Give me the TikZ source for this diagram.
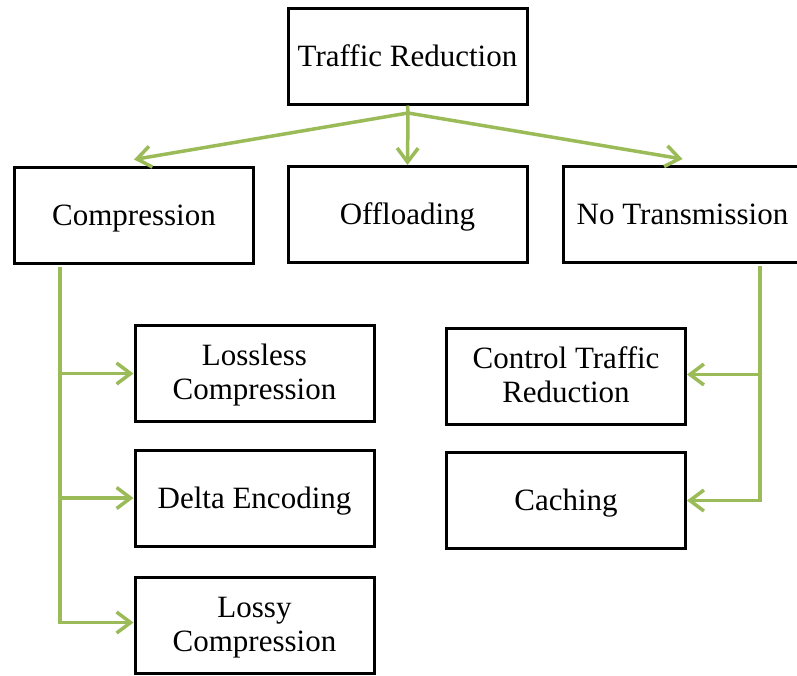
\documentclass[tikz,border=0pt]{standalone}
\usepackage{fontspec}
\setmainfont{Liberation Serif}
\usetikzlibrary{arrows.meta,calc}
\definecolor{leaf}{HTML}{9BBB59}
\tikzset{
  box/.style={draw=black, line width=3pt, fill=white, minimum width=239pt,
    minimum height=96pt, inner sep=0pt, align=center,
    text height=23pt, text depth=3pt,
    font=\fontsize{31}{34}\selectfont},
  box2/.style={box, text height=55pt, text depth=3pt},
  link/.style={draw=leaf, line width=3.5pt, line join=miter},
  arr/.style={link, -{Straight Barb[length=14pt,width=21pt,line width=3.5pt]}}
}
\begin{document}
\begin{tikzpicture}[x=1pt,y=-1pt]
\useasboundingbox (0,0) rectangle (797,675);
% top level
\node[box] (tr)   at (407.5,56)    {Traffic Reduction};
% second level
\node[box] (cmp)  at (134,215)     {Compression};
\node[box] (off)  at (407.5,214.5) {Offloading};
\node[box] (nt)   at (682.5,214.5) {No Transmission};
% compression branch
\node[box2] (lossless) at (254.5,373.5) {Lossless\\Compression};
\node[box]  (delta)    at (254.5,498)   {Delta Encoding};
\node[box2] (lossy)    at (254.5,625.5) {Lossy\\Compression};
% no-transmission branch
\node[box2] (ctr)  at (566,376.5) {Control Traffic\\Reduction};
\node[box]  (cach) at (566,500.5) {Caching};
% trunk positions
\coordinate (J) at (408,113);
\coordinate (L) at (60,0);
\coordinate (R) at (760,0);
% fan-out from the root
\draw[link] (tr.south) -- (J);
\draw[arr] (J) -- ([yshift=6pt]cmp.north);
\draw[arr] (J) -- (off.north);
\draw[arr] (J) -- ([yshift=6pt]nt.north);
% left trunk
\draw[arr] ([yshift=-2pt]cmp.south -| L) |- ([yshift=3pt]lossy.west);
\draw[arr] (L |- lossless.west) -- (lossless.west);
\draw[arr] (L |- delta.west) -- (delta.west);
% right trunk
\draw[arr] ([yshift=-2pt]nt.south -| R) |- (cach.east);
\draw[arr] ([yshift=2pt]R |- ctr.east) -- ([yshift=2pt]ctr.east);
\end{tikzpicture}
\end{document}
